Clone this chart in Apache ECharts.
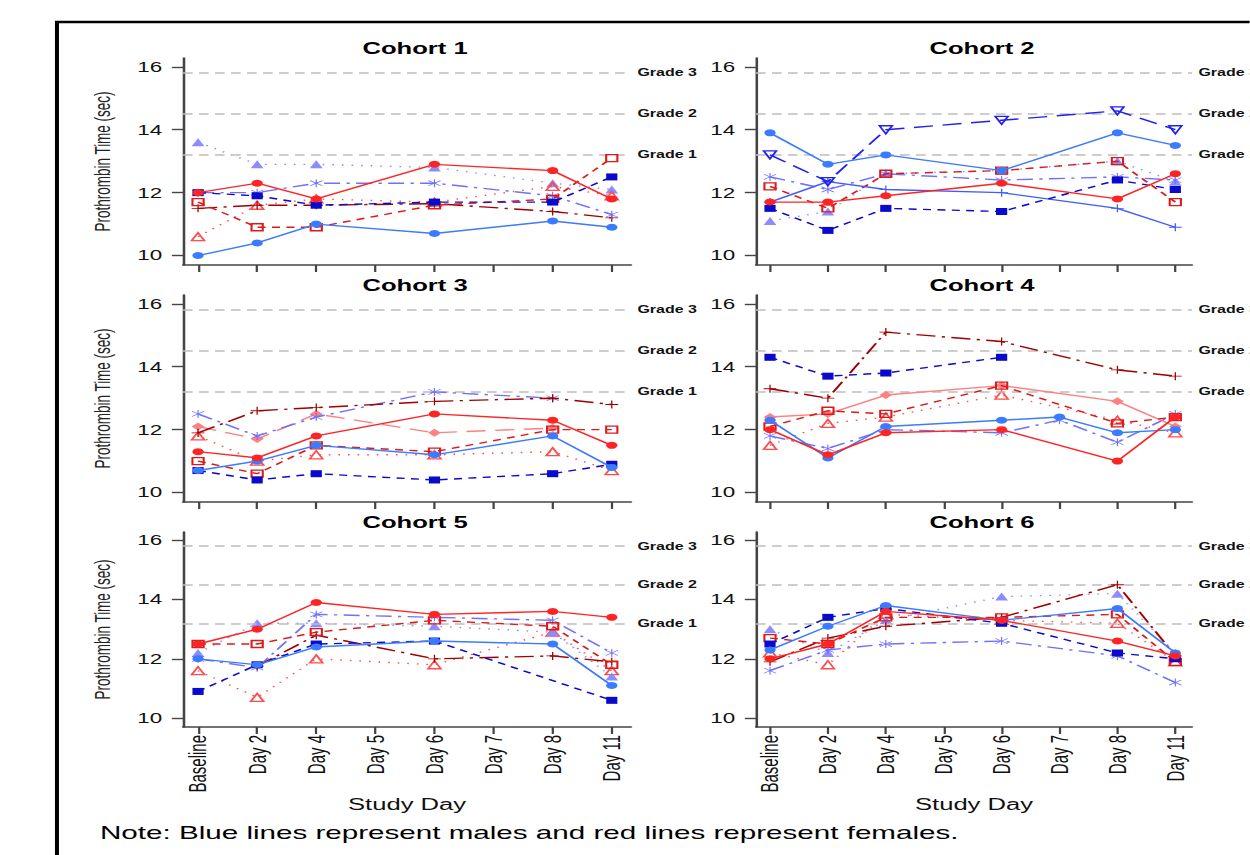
<!DOCTYPE html>
<html>
<head>
<meta charset="utf-8">
<script src="https://cdn.jsdelivr.net/npm/echarts@6/dist/echarts.min.js"></script>
<style>
html,body{margin:0;padding:0;background:#fff;overflow:hidden;width:1250px;height:855px;}
#chart{width:781.25px;height:855px;transform:scaleX(1.6);transform-origin:0 0;}
</style>
</head>
<body>
<div id="chart"></div>
<script>
// ---------- data ----------
const categories = ['Baseline','Day 2','Day 4','Day 5','Day 6','Day 7','Day 8','Day 11'];
const yTicks = [10, 12, 14, 16];
const gradeValues = [13.2, 14.5, 15.8];
const gradeLabels = ['Grade 1', 'Grade 2', 'Grade 3'];
const cohortTitles = ['Cohort 1','Cohort 2','Cohort 3','Cohort 4','Cohort 5','Cohort 6'];
const yAxisTitle = 'Prothrombin Time (sec)';
const xAxisTitle = 'Study Day';
const noteText = 'Note: Blue lines represent males and red lines represent females.';

// Cohort 1
const c1BlueTriangle   = [13.6, 12.9, 12.9, null, 12.8, null, 12.3, 12.1];
const c1RedOpenTriangle= [10.6, 11.6, 11.8, null, 11.7, null, 12.2, 11.9];
const c1DarkRedPlus    = [11.5, 11.6, 11.6, null, 11.65, null, 11.4, 11.2];
const c1BlueStar       = [12.0, 12.0, 12.3, null, 12.3, null, 11.9, 11.3];
const c1RedOpenSquare  = [11.7, 10.9, 10.9, null, 11.6, null, 11.8, 13.1];
const c1BlueSquare     = [12.0, 11.9, 11.6, null, 11.7, null, 11.7, 12.5];
const c1BlueCircle     = [10.0, 10.4, 11.0, null, 10.7, null, 11.1, 10.9];
const c1RedCircle      = [12.0, 12.3, 11.8, null, 12.9, null, 12.7, 11.8];
// Cohort 2
const c2BlueTriangle   = [11.1, 11.4, 12.6, null, 12.7, null, 13.0, 12.35];
const c2BlueStar       = [12.5, 12.1, 12.6, null, 12.4, null, 12.5, 12.4];
const c2RedOpenSquare  = [12.2, 11.5, 12.6, null, 12.7, null, 13.0, 11.7];
const c2BluePlus       = [11.7, 12.35, 12.1, null, 12.0, null, 11.5, 10.9];
const c2BlueDownTri    = [13.2, 12.35, 14.0, null, 14.3, null, 14.6, 14.0];
const c2BlueSquare     = [11.5, 10.8, 11.5, null, 11.4, null, 12.4, 12.1];
const c2BlueCircle     = [13.9, 12.9, 13.2, null, 12.7, null, 13.9, 13.5];
const c2RedCircle      = [11.7, 11.7, 11.9, null, 12.3, null, 11.8, 12.6];
// Cohort 3
const c3RedOpenTriangle= [11.8, 11.0, 11.2, null, 11.2, null, 11.3, 10.7];
const c3PinkDiamond    = [12.1, 11.7, 12.5, null, 11.9, null, 12.05, null];
const c3BlueStar       = [12.5, 11.8, 12.4, null, 13.2, null, 13.0, null];
const c3DarkRedPlus    = [11.9, 12.6, 12.7, null, 12.9, null, 13.0, 12.8];
const c3RedOpenSquare  = [11.0, 10.6, 11.5, null, 11.3, null, 12.0, 12.0];
const c3BlueSquare     = [10.7, 10.4, 10.6, null, 10.4, null, 10.6, 10.9];
const c3BlueCircle     = [10.7, 11.0, 11.5, null, 11.2, null, 11.8, 10.8];
const c3RedCircle      = [11.3, 11.1, 11.8, null, 12.5, null, 12.3, 11.5];
// Cohort 4
const c4RedOpenTriangle= [11.5, 12.2, 12.4, null, 13.1, null, 12.3, 11.9];
const c4BlueStar       = [11.8, 11.4, 12.0, null, 11.9, 12.3, 11.6, 12.5];
const c4PinkDiamond    = [12.4, 12.5, 13.1, null, 13.4, null, 12.9, 12.1];
const c4RedOpenSquare  = [12.1, 12.6, 12.5, null, 13.4, null, 12.2, 12.4];
const c4DarkRedPlus    = [13.3, 13.0, 15.1, null, 14.8, null, 13.9, 13.7];
const c4BlueSquare     = [14.3, 13.7, 13.8, null, 14.3, null, null, null];
const c4BlueCircle     = [12.3, 11.1, 12.1, null, 12.3, 12.4, 11.9, 12.0];
const c4RedCircle      = [12.0, 11.2, 11.9, null, 12.0, null, 11.0, 12.4];
// Cohort 5
const c5RedOpenTriangle= [11.6, 10.7, 12.0, null, 11.8, null, 12.9, 11.6];
const c5BlueTriangle   = [12.2, 13.2, 13.2, null, 13.1, null, 12.9, 11.4];
const c5BlueStar       = [12.0, 11.7, 13.5, null, 13.4, null, 13.3, 12.2];
const c5DarkRedPlus    = [null, 11.75, 12.8, null, 12.0, null, 12.1, 11.9];
const c5RedOpenSquare  = [12.5, 12.5, 12.9, null, 13.3, null, 13.1, 11.8];
const c5BlueSquare     = [10.9, 11.8, 12.5, null, 12.6, null, null, 10.6];
const c5BlueCircle     = [12.0, 11.8, 12.4, null, 12.6, null, 12.5, 11.1];
const c5RedCircle      = [12.5, 13.0, 13.9, null, 13.5, null, 13.6, 13.4];
// Cohort 6
const c6RedOpenTriangle= [12.2, 11.8, 13.5, null, 13.3, null, 13.2, 11.9];
const c6BlueTriangle   = [13.0, 12.2, 13.3, null, 14.1, null, 14.2, 12.2];
const c6BlueStar       = [11.6, 12.3, 12.5, null, 12.6, null, 12.1, 11.2];
const c6DarkRedPlus    = [11.9, 12.7, 13.1, null, 13.4, null, 14.5, 12.1];
const c6RedOpenSquare  = [12.7, 12.5, 13.4, null, 13.4, null, 13.5, 11.9];
const c6BlueSquare     = [12.5, 13.4, 13.7, null, 13.2, null, 12.2, 12.0];
const c6BlueCircle     = [12.3, 13.1, 13.8, null, 13.3, null, 13.7, 12.2];
const c6RedCircle      = [12.0, 12.5, 13.6, null, 13.3, null, 12.6, 12.1];

// ---------- styles ----------
const PLUS = 'path://M9,0H11V20H9Z M0,9H20V11H0Z';
const STAR = 'path://M9.2,0H10.8V20H9.2Z M1.0,4.2L1.8,2.8L19.0,15.8L18.2,17.2Z M18.2,2.8L19.0,4.2L1.8,17.2L1.0,15.8Z';
const styles = {
  bCirc:  {color:'#3b7bff', symbol:'circle',   size:7, line:'solid'},
  rCirc:  {color:'#ff2424', symbol:'circle',   size:7, line:'solid'},
  bSq:    {color:'#0a0acc', symbol:'rect',     size:7, line:[5,4]},
  bTri:   {color:'#8c8cff', symbol:'triangle', size:8, line:[1,5]},
  bStar:  {color:'#7070ff', symbol:STAR,       size:8, line:[10,4,2,4]},
  rOSq:   {color:'#dd1a1a', symbol:'rect',     size:7, line:[5,4], open:true},
  rOTri:  {color:'#ff4c4c', symbol:'triangle', size:8, line:[1,5], open:true},
  drPlus: {color:'#a00000', symbol:PLUS,       size:8, line:[12,4,2,4]},
  bPlus:  {color:'#3f5cff', symbol:PLUS,       size:8, line:'solid'},
  bDown:  {color:'#2222ee', symbol:'triangle', size:8, line:[12,6], open:true, rotate:180},
  pDiaD:  {color:'#ff8080', symbol:'diamond',  size:8, line:[12,6]},
  pDiaS:  {color:'#ff8080', symbol:'diamond',  size:8, line:'solid'}
};

const panels = [
  [['bTri',c1BlueTriangle],['rOTri',c1RedOpenTriangle],['drPlus',c1DarkRedPlus],['bStar',c1BlueStar],['rOSq',c1RedOpenSquare],['bSq',c1BlueSquare],['bCirc',c1BlueCircle],['rCirc',c1RedCircle]],
  [['bTri',c2BlueTriangle],['bStar',c2BlueStar],['rOSq',c2RedOpenSquare],['bPlus',c2BluePlus],['bDown',c2BlueDownTri],['bSq',c2BlueSquare],['bCirc',c2BlueCircle],['rCirc',c2RedCircle]],
  [['rOTri',c3RedOpenTriangle],['pDiaD',c3PinkDiamond],['bStar',c3BlueStar],['drPlus',c3DarkRedPlus],['rOSq',c3RedOpenSquare],['bSq',c3BlueSquare],['bCirc',c3BlueCircle],['rCirc',c3RedCircle]],
  [['rOTri',c4RedOpenTriangle],['bStar',c4BlueStar],['pDiaS',c4PinkDiamond],['rOSq',c4RedOpenSquare],['drPlus',c4DarkRedPlus],['bSq',c4BlueSquare],['bCirc',c4BlueCircle],['rCirc',c4RedCircle]],
  [['rOTri',c5RedOpenTriangle],['bTri',c5BlueTriangle],['bStar',c5BlueStar],['drPlus',c5DarkRedPlus],['rOSq',c5RedOpenSquare],['bSq',c5BlueSquare],['bCirc',c5BlueCircle],['rCirc',c5RedCircle]],
  [['rOTri',c6RedOpenTriangle],['bTri',c6BlueTriangle],['bStar',c6BlueStar],['drPlus',c6DarkRedPlus],['rOSq',c6RedOpenSquare],['bSq',c6BlueSquare],['bCirc',c6BlueCircle],['rCirc',c6RedCircle]]
];

// ---------- layout (unstretched coordinates; page is stretched 1.6x horizontally) ----------
const FONT = 'Liberation Sans, Arial, sans-serif';
const colLeft = [114.4, 472.5];
const colWidth = [280, 272.5];
const colXMin = [-0.254, -0.242];
const colXMax = [7.326, 7.288];
const rowTop = [58, 295, 532];
const rowHeight = [207, 207, 195];
const titleTop = [36, 273, 510];
const Y_MIN = 9.7, Y_MAX = 16.28;
const catIdx = categories.map((c, i) => i);

const grids = [], xAxes = [], yAxes = [], titles = [], series = [];
for (let p = 0; p < 6; p++) {
  const col = p % 2, row = Math.floor(p / 2);
  const bottom = row === 2;
  grids.push({left: colLeft[col], top: rowTop[row], width: colWidth[col], height: rowHeight[row], containLabel: false});
  titles.push({
    text: cohortTitles[p], left: colLeft[col] + colWidth[col] / 2, top: titleTop[row], textAlign: 'center',
    textStyle: {fontFamily: FONT, fontSize: 16, fontWeight: 'bold', color: '#000'}
  });
  xAxes.push({
    type: 'value', gridIndex: p, min: colXMin[col], max: colXMax[col],
    axisLine: {show: true, onZero: false, lineStyle: {color: '#444', width: 1.6}},
    axisTick: {show: true, customValues: catIdx, length: 7, lineStyle: {color: '#444', width: 1.4}},
    axisLabel: {show: bottom, customValues: catIdx, formatter: v => categories[Math.round(v)],
      rotate: 90, margin: 8, fontFamily: FONT, fontSize: 15, color: '#111'},
    splitLine: {show: false},
    name: bottom ? xAxisTitle : '', nameLocation: 'middle', nameGap: 66,
    nameTextStyle: {fontFamily: FONT, fontSize: 16, color: '#111'}
  });
  yAxes.push({
    type: 'value', gridIndex: p, min: Y_MIN, max: Y_MAX,
    axisLine: {show: true, onZero: false, lineStyle: {color: '#444', width: 1.6}},
    axisTick: {show: true, customValues: yTicks, length: 7, lineStyle: {color: '#444', width: 1.4}},
    axisLabel: {customValues: yTicks, margin: 13, fontFamily: FONT, fontSize: 14, color: '#111'},
    splitLine: {show: false},
    name: col === 0 ? yAxisTitle : '', nameLocation: 'middle', nameGap: 43,
    nameTextStyle: {fontFamily: FONT, fontSize: 13.5, color: '#222'}
  });
  panels[p].forEach(([key, vals], k) => {
    const st = styles[key];
    const data = vals.map((v, i) => v == null ? null : [i, v]).filter(d => d);
    const s = {
      type: 'line', xAxisIndex: p, yAxisIndex: p, data: data,
      symbol: st.symbol, symbolSize: st.size, symbolRotate: st.rotate || 0, showAllSymbol: true,
      lineStyle: {color: st.color, width: 1.4, type: st.line},
      itemStyle: st.open ? {color: 'rgba(255,255,255,0)', borderColor: st.color, borderWidth: 1.3}
                         : {color: st.color, borderWidth: 0},
      emphasis: {disabled: true}, animation: false, z: 3 + k
    };
    if (k === 0) {
      s.markLine = {
        silent: true, symbol: ['none', 'none'], animation: false,
        lineStyle: {color: '#bdbdbd', type: [6, 4], width: 1.5},
        label: {show: true, position: 'end', distance: 4, formatter: '{b}', fontFamily: FONT,
          fontSize: 10, fontWeight: 'bold', color: '#111'},
        data: gradeValues.map((v, i) => ({yAxis: v, name: gradeLabels[i]}))
      };
    }
    series.push(s);
  });
}

const chart = echarts.init(document.getElementById('chart'), null, {renderer: 'svg', width: 781.25, height: 855});
chart.setOption({
  backgroundColor: '#fff',
  animation: false,
  title: titles,
  grid: grids,
  xAxis: xAxes,
  yAxis: yAxes,
  series: series,
  graphic: [
    {type: 'polyline', shape: {points: [[35.6, 860], [35.6, 22], [790, 22]]},
      style: {stroke: '#000', lineWidth: 2.5, fill: null}, silent: true},
    {type: 'text', left: 62.5, top: 823,
      style: {text: noteText, fontFamily: FONT, fontSize: 18.5, fill: '#000'}}
  ]
});
</script>
</body>
</html>
